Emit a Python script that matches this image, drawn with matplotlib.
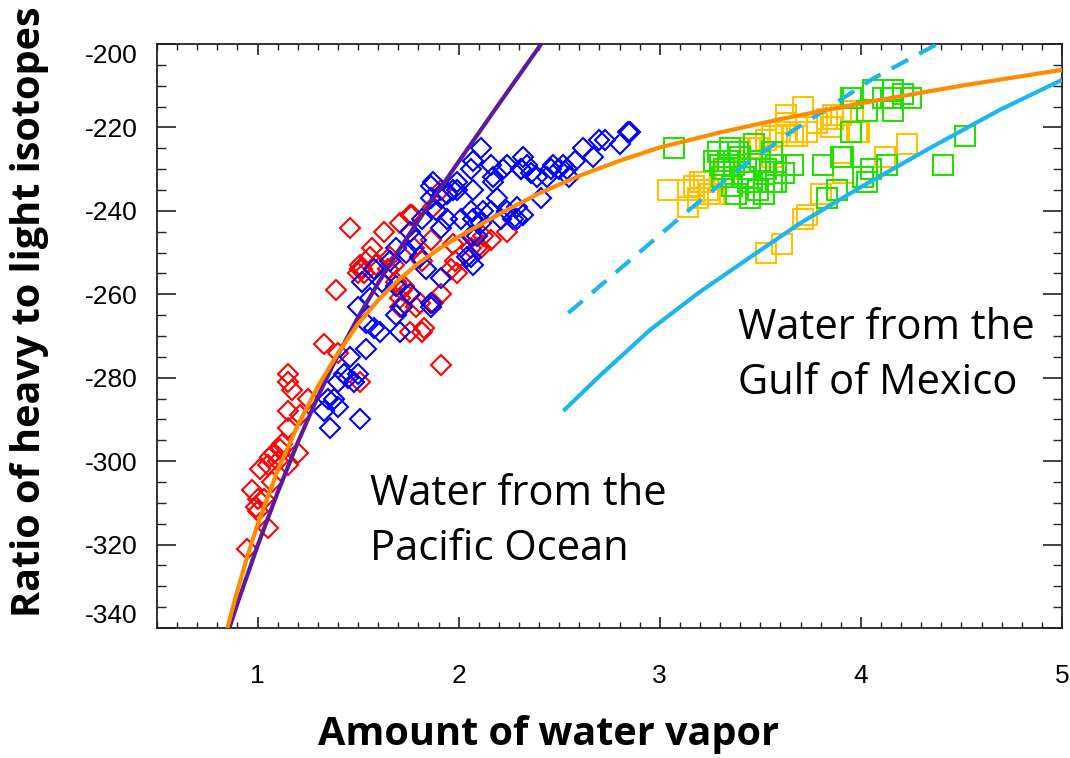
# Isotope ratio vs. water vapor, Pacific vs. Gulf of Mexico moisture

import numpy as np
import matplotlib
matplotlib.use("Agg")
import matplotlib.pyplot as plt
from matplotlib.ticker import MultipleLocator

# Red diamonds
red_x = [0.95, 0.97, 1.00, 1.00, 1.05, 0.99, 1.06, 1.05, 1.08, 1.11, 1.10, 1.20, 1.15, 1.15,
         1.15, 1.15, 1.15, 1.17, 1.25, 1.33, 1.40, 1.51, 1.76, 1.83, 1.91, 1.71, 1.79, 1.07,
         1.21, 1.46, 1.57, 1.63, 1.71, 1.77, 1.39, 1.52, 1.53, 1.50, 1.97, 2.07, 2.16, 2.24,
         2.11, 1.99, 1.73, 1.87, 1.71, 1.65, 1.69, 1.91, 2.12, 2.09, 1.96, 1.76, 1.81, 1.51,
         1.98, 2.06, 1.72, 1.91, 1.82, 1.76, 1.87, 1.01, 1.03, 1.12, 1.51, 1.56, 1.59, 1.66,
         1.68, 1.78, 1.86, 1.82]
red_y = [-321, -307, -309, -312, -316, -311, -299, -301, -298, -297, -300, -298, -301, -292,
         -288, -281, -279, -283, -285, -272, -274, -281, -269, -268, -277, -263, -263, -305,
         -289, -244, -249, -245, -243, -241, -259, -254, -255, -255, -248, -246, -247, -245,
         -249, -255, -258, -262, -261, -254, -257, -235, -246, -249, -254, -260, -262, -254,
         -252, -249, -259, -260, -269, -241, -239, -302, -309, -296, -253, -251, -253, -251,
         -253, -249, -247, -252]

# Blue diamonds
blue_x = [1.36, 1.51, 1.40, 1.35, 1.38, 1.33, 1.40, 1.45, 1.50, 1.48, 1.43, 1.46, 1.54, 1.61,
          1.58, 1.54, 1.69, 1.71, 1.86, 1.72, 1.87, 1.99, 1.97, 2.07, 2.06, 2.17, 2.22, 2.31,
          2.32, 2.29, 2.27, 2.12, 2.07, 2.01, 1.91, 1.89, 1.82, 1.76, 1.79, 1.74, 1.81, 1.69,
          1.66, 1.58, 1.52, 1.62, 1.84, 1.91, 2.06, 2.09, 1.86, 1.76, 1.69, 1.56, 1.50, 1.86,
          1.94, 1.86, 2.11, 2.07, 2.16, 2.17, 2.24, 2.32, 2.31, 2.36, 2.39, 2.34, 2.41, 2.44,
          2.47, 2.52, 2.55, 2.54, 2.62, 2.70, 2.67, 2.80, 2.85, 2.84, 1.99, 2.06, 2.19, 2.24,
          2.29, 2.21, 2.16, 2.11, 2.06, 2.04, 2.07, 1.91, 1.94, 2.46, 2.50, 2.58, 2.73]
blue_y = [-292, -290, -287, -285, -285, -288, -281, -280, -279, -281, -279, -275, -273, -269,
          -268, -267, -265, -269, -263, -263, -233, -233, -235, -235, -230, -233, -230, -230,
          -241, -239, -242, -240, -242, -242, -244, -240, -242, -245, -247, -250, -251, -249,
          -252, -254, -257, -257, -254, -256, -251, -246, -262, -260, -258, -261, -263, -237,
          -236, -234, -225, -228, -229, -232, -229, -227, -230, -231, -232, -229, -237, -232,
          -229, -229, -232, -230, -225, -223, -227, -224, -221, -221, -235, -240, -237, -240,
          -242, -242, -240, -243, -246, -251, -253, -237, -242, -230, -230, -228, -223]

# Gold squares
gold_x = [3.04, 3.14, 3.14, 3.17, 3.20, 3.22, 3.24, 3.25, 3.19, 3.27, 3.45, 3.49, 3.50, 3.53,
          3.56, 3.60, 3.63, 3.66, 3.68, 3.71, 3.63, 3.63, 3.73, 3.78, 3.83, 3.86, 3.85, 3.96,
          3.99, 3.86, 3.56, 3.71, 3.61, 3.53, 4.23, 4.12, 3.91, 3.80, 3.73, 3.90, 3.98, 3.33,
          3.37]
gold_y = [-235, -235, -239, -234, -233, -233, -235, -236, -237, -236, -225, -225, -225, -223,
          -222, -221, -221, -222, -222, -215, -217, -219, -221, -219, -218, -218, -220, -216,
          -221, -217, -227, -242, -248, -250, -224, -227, -231, -236, -241, -217, -221, -230,
          -228]

# Green squares
green_x = [3.07, 3.29, 3.35, 3.30, 3.37, 3.40, 3.44, 3.45, 3.50, 3.56, 3.58, 3.58, 3.66, 3.32,
           3.34, 3.95, 4.03, 3.95, 3.90, 3.81, 3.45, 3.39, 3.42, 3.56, 3.49, 4.01, 3.88, 4.06,
           4.16, 4.15, 4.21, 4.25, 4.16, 4.52, 4.41, 4.05, 4.13, 4.03, 4.11, 3.83, 3.91, 3.96,
           3.27, 3.31, 3.36, 3.47, 3.53, 3.62, 3.52, 3.38]
green_y = [-225, -226, -225, -229, -229, -227, -233, -237, -228, -226, -229, -233, -229, -230,
           -228, -213, -216, -221, -227, -229, -230, -226, -232, -233, -235, -232, -235, -211,
           -211, -213, -212, -213, -216, -222, -229, -230, -229, -233, -213, -237, -227, -213,
           -228, -232, -234, -224, -230, -231, -236, -236]

# Curves
purple_x = [0.86, 0.90, 1.00, 1.10, 1.20, 1.30, 1.40, 1.50, 1.60, 1.70, 1.80, 1.90, 2.00, 2.20, 2.41]
purple_y = [-340, -334.1, -320.3, -307.5, -295.5, -284.5, -274.5, -265.5, -257.3, -249.6,
            -242.3, -235.2, -228.2, -214.4, -200]

orange_x = [0.85, 0.90, 0.95, 1.00, 1.10, 1.20, 1.30, 1.40, 1.50, 1.60, 1.70, 1.80, 1.90, 2.00,
            2.20, 2.40, 2.60, 2.80, 3.00, 3.30, 3.60, 4.00, 4.50, 5.00]
orange_y = [-340, -331, -322.7, -315.2, -302.2, -291.4, -282.1, -274.1, -267.1, -261.4, -256.6,
            -252.6, -249.2, -246.2, -240.8, -235.8, -231.6, -228.0, -224.8, -221.2, -218.0,
            -214.2, -210.0, -206.2]

dash_x = [2.545, 2.80, 3.14, 3.40, 3.53, 3.66, 3.81, 4.06, 4.38]
dash_y = [-264.5, -254, -240, -229.7, -225.4, -220.8, -216.2, -208.3, -200]

cyan_x = [2.52, 2.70, 2.95, 3.20, 3.45, 3.70, 4.00, 4.33, 4.69, 5.00]
cyan_y = [-288, -279.6, -268.6, -259.4, -251.1, -242.9, -234.3, -225.3, -215.8, -208.6]

y_ticks = [-340, -320, -300, -280, -260, -240, -220, -200]

plt.rcParams["font.family"] = "Liberation Sans"
plt.rcParams["axes.unicode_minus"] = False

fig = plt.figure(figsize=(10.7, 7.58), dpi=100)
ax = fig.add_axes([157 / 1070, 130 / 758, 905 / 1070, 584 / 758])

mk = dict(linestyle="none", markerfacecolor="none", markeredgewidth=1.5)
ax.plot(red_x, red_y, marker="D", markersize=10, markeredgecolor="#ff0000", zorder=2, **mk)
ax.plot(blue_x, blue_y, marker="D", markersize=10, markeredgecolor="#0000ff", zorder=2, **mk)
ax.plot(gold_x, gold_y, marker="s", markersize=14, markeredgecolor="#ffc000", zorder=2, **mk)
ax.plot(green_x, green_y, marker="s", markersize=14, markeredgecolor="#22e000", zorder=2, **mk)

ax.plot(purple_x, purple_y, color="#5c1a9c", linewidth=3, zorder=3, solid_capstyle="butt")
ax.plot(orange_x, orange_y, color="#ff8c00", linewidth=3, zorder=4, solid_capstyle="butt")
ax.plot(dash_x, dash_y, color="#1cb5ec", linewidth=3, linestyle=(0, (4.5, 3)), zorder=3)
ax.plot(cyan_x, cyan_y, color="#1cb5ec", linewidth=3, zorder=3, solid_capstyle="butt")

ax.set_xlim(0.5, 5)
ax.set_ylim(-340, -200)
ax.xaxis.set_major_locator(MultipleLocator(1))
ax.xaxis.set_minor_locator(MultipleLocator(0.1))
ax.set_yticks(y_ticks)
ax.yaxis.set_minor_locator(MultipleLocator(5))

ax.tick_params(axis="x", which="both", direction="in", top=True, bottom=True, pad=26,
               labelsize=19, color="#222222")
ax.tick_params(axis="y", which="both", direction="in", left=True, right=True, pad=14,
               labelsize=19, color="#222222")
ax.tick_params(axis="x", which="major", length=8, width=1.2)
ax.tick_params(axis="x", which="minor", length=4.3, width=1.0)
ax.tick_params(axis="y", which="major", length=13.5, width=1.2)
ax.tick_params(axis="y", which="minor", length=6.5, width=1.0)
for s in ax.spines.values():
    s.set_linewidth(1.3)
    s.set_color("#222222")

# end labels sit inside the frame, like the original
ylabels = ax.get_yticklabels()
ylabels[0].set_verticalalignment("bottom")
ylabels[-1].set_verticalalignment("top")

# Labels
fig.text(30 / 1070, 1 - 312 / 758, "Ratio of heavy to light isotopes", rotation=90,
         ha="center", va="center", fontsize=28.5, fontweight="bold", family="Open Sans")
fig.text(549 / 1070, 1 - 735 / 758, "Amount of water vapor",
         ha="center", va="center", fontsize=28.5, fontweight="bold", family="Open Sans")

ax.text(1.56, -314.5, "Water from the\nPacific Ocean", ha="left", va="center",
        fontsize=30, family="Open Sans", linespacing=1.4)
ax.text(3.39, -274.6, "Water from the\nGulf of Mexico", ha="left", va="center",
        fontsize=30, family="Open Sans", linespacing=1.4)

fig.savefig("out.png", dpi=100)
